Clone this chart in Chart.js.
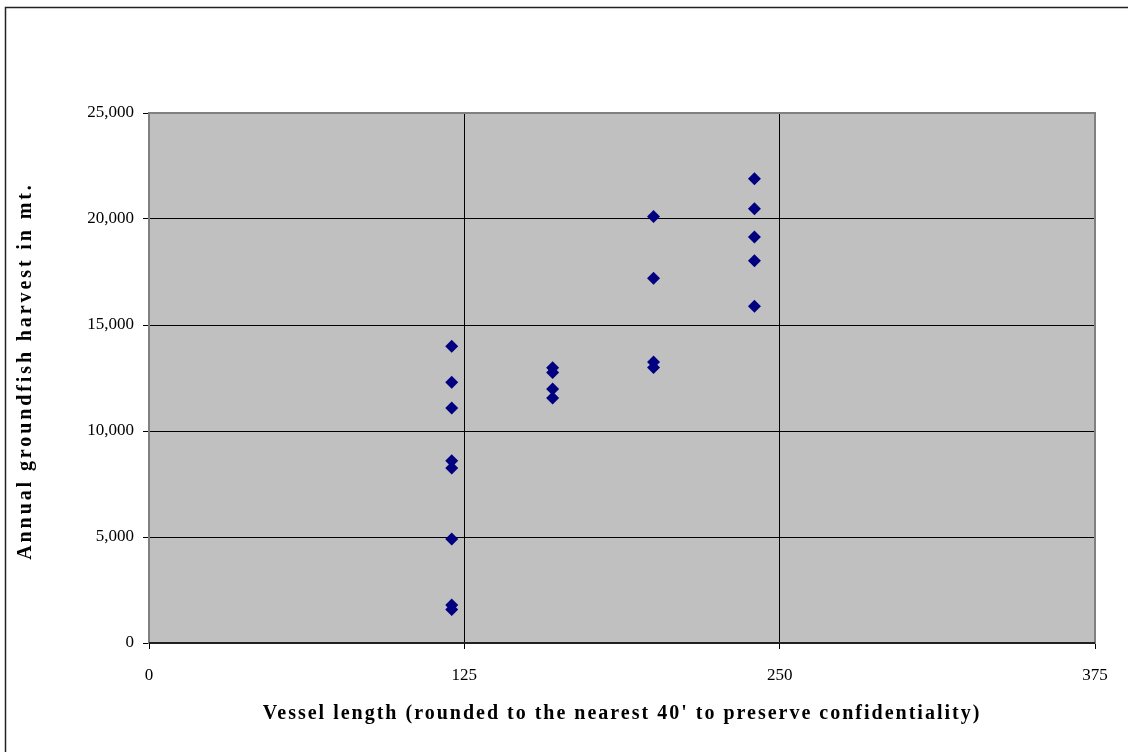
<!DOCTYPE html>
<html>
<head>
<meta charset="utf-8">
<script src="https://cdn.jsdelivr.net/npm/chart.js@4/dist/chart.umd.min.js"></script>
<style>
html,body{margin:0;padding:0;background:#fff;}
canvas{display:block;}
</style>
</head>
<body>
<canvas id="c" width="1128" height="752"></canvas>
<script>
// Data
const vesselLength = [120,120,120,120,120,120,120,120, 160,160,160,160, 200,200,200,200, 240,240,240,240,240];
const harvest      = [14000,12300,11080,8600,8250,4900,1790,1580, 12980,12760,11980,11560, 20120,17200,13250,12990, 21900,20480,19150,18030,15880];
const xTicks = [0,125,250,375];
const yTicks = [0,5000,10000,15000,20000,25000];
const xTitle = "Vessel length (rounded to the nearest 40' to preserve confidentiality)";
const yTitle = "Annual groundfish harvest in mt.";

const points = vesselLength.map((v,i)=>({x:v,y:harvest[i]}));

function spacedTitle(scale, spacing, dx, dy){
  if (scale._patched) return;
  scale._patched = true;
  const orig = scale.drawTitle;
  scale.drawTitle = function(){
    const ctx = this.ctx;
    ctx.save();
    ctx.letterSpacing = spacing;
    ctx.translate(dx, dy);
    orig.apply(this, arguments);
    ctx.restore();
  };
}

const bgPlugin = {
  id:'bg',
  beforeDraw(chart){
    const {ctx, chartArea:a} = chart;
    ctx.save();
    ctx.fillStyle='#fff';
    ctx.fillRect(0,0,chart.width,chart.height);
    ctx.strokeStyle='#222';
    ctx.lineWidth=1.5;
    ctx.beginPath();
    ctx.moveTo(5.5,752); ctx.lineTo(5.5,7.5); ctx.lineTo(1128,7.5);
    ctx.stroke();
    ctx.fillStyle='#C0C0C0';
    ctx.fillRect(a.left,a.top,a.right-a.left,a.bottom-a.top);
    ctx.restore();
  },
  afterDatasetsDraw(chart){
    const {ctx, chartArea:a} = chart;
    ctx.save();
    ctx.strokeStyle='#808080';
    ctx.lineWidth=2;
    ctx.strokeRect(a.left,a.top,a.right-a.left,a.bottom-a.top);
    ctx.strokeStyle='#000';
    ctx.lineWidth=1.5;
    ctx.beginPath();
    ctx.moveTo(a.left,a.bottom); ctx.lineTo(a.right,a.bottom);
    ctx.stroke();
    ctx.restore();
  }
};

new Chart(document.getElementById('c'),{
  type:'scatter',
  data:{datasets:[{
    data:points,
    pointStyle:'rectRot',
    pointRadius:6.5,
    pointHoverRadius:6.5,
    backgroundColor:'#000080',
    borderColor:'#000080',
    borderWidth:0
  }]},
  options:{
    responsive:false,
    animation:false,
    events:[],
    layout:{padding:{left:0,top:113,right:33,bottom:0}},
    plugins:{legend:{display:false},tooltip:{enabled:false}},
    scales:{
      x:{
        type:'linear',min:0,max:375,
        afterBuildTicks(s){ s.ticks = xTicks.map(v=>({value:v})); spacedTitle(s,'2px',0,0); },
        afterFit(s){ s.height = 109; },
        grid:{color:'#000',lineWidth:1,tickLength:6,tickColor:'#000',drawTicks:true},
        border:{display:false},
        ticks:{color:'#000',padding:16,font:{family:'Liberation Serif',size:17},maxRotation:0,
               callback:v=>v.toLocaleString('en-US')},
        title:{display:true,text:xTitle,color:'#000',font:{family:'Liberation Serif',size:20,weight:'bold'},padding:{top:0,bottom:26}}
      },
      y:{
        type:'linear',min:0,max:25000,
        afterBuildTicks(s){ s.ticks = yTicks.map(v=>({value:v})); spacedTitle(s,'2.9px',0,-7); },
        afterFit(s){ s.width = 149; },
        grid:{color:'#000',lineWidth:1,tickLength:6,tickColor:'#000',drawTicks:true},
        border:{display:false},
        ticks:{color:'#000',padding:9,font:{family:'Liberation Serif',size:17},
               callback:v=>v.toLocaleString('en-US')},
        title:{display:true,text:yTitle,color:'#000',font:{family:'Liberation Serif',size:20,weight:'bold'},padding:{top:14,bottom:0}}
      }
    }
  },
  plugins:[bgPlugin]
});
</script>
</body>
</html>
